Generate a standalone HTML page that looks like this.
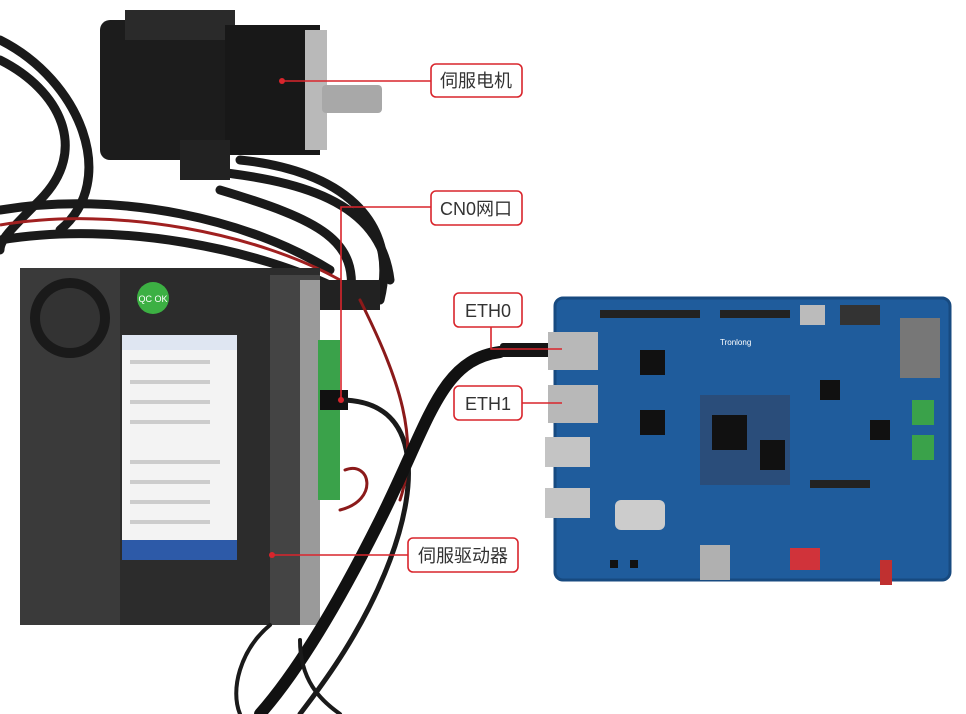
<!DOCTYPE html>
<html><head><meta charset="utf-8"><style>
html,body{margin:0;padding:0;background:#fff;}
svg{display:block;}
text{font-family:"Liberation Sans","Noto Sans CJK SC",sans-serif;fill:#333;}
</style></head><body>
<svg width="966" height="714" viewBox="0 0 966 714" xmlns="http://www.w3.org/2000/svg">
<rect width="966" height="714" fill="#fff"/>
<!-- cables behind -->
<g fill="none" stroke="#1a1a1a" stroke-width="9" stroke-linecap="round">
<path d="M0,60 C60,90 90,150 40,200 C10,230 0,240 0,250"/>
<path d="M0,40 C80,80 120,180 60,230"/>
<path d="M0,210 C120,190 250,220 330,270"/>
<path d="M0,240 C120,220 260,250 340,290"/>
<path d="M200,170 C300,180 380,200 390,280"/>
<path d="M220,190 C320,220 360,240 350,300"/>
<path d="M240,160 C340,170 400,220 380,300"/>
</g>
<path d="M0,225 C120,205 260,235 340,280" fill="none" stroke="#a02020" stroke-width="3"/>
<!-- motor -->
<rect x="100" y="20" width="130" height="140" rx="10" fill="#1c1c1c"/>
<rect x="125" y="10" width="110" height="30" fill="#2a2a2a"/>
<rect x="225" y="25" width="95" height="130" fill="#181818"/>
<rect x="305" y="30" width="22" height="120" fill="#b9b9b9"/>
<rect x="322" y="85" width="60" height="28" rx="4" fill="#a8a8a8"/>
<rect x="180" y="140" width="50" height="40" fill="#222"/>
<!-- drive -->
<rect x="20" y="268" width="300" height="357" fill="#2c2c2c"/>
<rect x="20" y="268" width="100" height="357" fill="#3a3a3a"/>
<rect x="270" y="275" width="50" height="350" fill="#444"/>
<rect x="300" y="280" width="20" height="345" fill="#9a9a9a"/>
<circle cx="70" cy="318" r="40" fill="#1a1a1a"/>
<circle cx="70" cy="318" r="30" fill="#333"/>
<circle cx="153" cy="298" r="16" fill="#3cb043"/>
<text x="153" y="302" font-size="9" text-anchor="middle" fill="#fff" style="fill:#fff">QC OK</text>
<rect x="122" y="335" width="115" height="225" fill="#f3f3f3"/>
<rect x="122" y="335" width="115" height="15" fill="#dfe6f2"/>
<rect x="122" y="540" width="115" height="20" fill="#2d5aa8"/>
<g fill="#ccc"><rect x="130" y="360" width="80" height="4"/><rect x="130" y="380" width="80" height="4"/><rect x="130" y="400" width="80" height="4"/><rect x="130" y="420" width="80" height="4"/><rect x="130" y="460" width="90" height="4"/><rect x="130" y="480" width="80" height="4"/><rect x="130" y="500" width="80" height="4"/><rect x="130" y="520" width="80" height="4"/></g>
<rect x="318" y="340" width="22" height="160" fill="#3aa24a"/>
<rect x="320" y="390" width="28" height="20" fill="#111"/>
<rect x="320" y="280" width="60" height="30" fill="#222"/>
<!-- cables front -->
<g fill="none" stroke-linecap="round">
<path d="M340,400 C420,400 420,480 390,560 C360,640 310,700 300,714" stroke="#1a1a1a" stroke-width="5"/>
<path d="M360,300 C400,380 420,440 400,500" stroke="#8b1a1a" stroke-width="3"/>
<path d="M345,470 C370,460 380,500 340,510" stroke="#8b1a1a" stroke-width="3"/>
<path d="M500,352 C440,360 430,420 380,520 C330,620 290,680 260,714" stroke="#111" stroke-width="12"/>
<path d="M300,640 C300,680 320,700 340,714" stroke="#1a1a1a" stroke-width="4"/>
<path d="M270,625 C240,650 230,690 240,714" stroke="#1a1a1a" stroke-width="4"/>
</g>
<rect x="500" y="343" width="60" height="14" rx="3" fill="#151515"/>
<!-- board -->
<rect x="555" y="298" width="395" height="282" rx="8" fill="#1f5c9c"/>
<rect x="555" y="298" width="395" height="282" rx="8" fill="none" stroke="#174a80" stroke-width="3"/>
<rect x="548" y="332" width="50" height="38" fill="#b8b8b8"/>
<rect x="548" y="385" width="50" height="38" fill="#b8b8b8"/>
<rect x="545" y="437" width="45" height="30" fill="#c4c4c4"/>
<rect x="545" y="488" width="45" height="30" fill="#c4c4c4"/>
<rect x="700" y="395" width="90" height="90" fill="#2a4d7a"/>
<rect x="712" y="415" width="35" height="35" fill="#111"/>
<rect x="760" y="440" width="25" height="30" fill="#111"/>
<rect x="900" y="318" width="40" height="60" fill="#777"/>
<rect x="912" y="400" width="22" height="25" fill="#3aa24a"/>
<rect x="912" y="435" width="22" height="25" fill="#3aa24a"/>
<rect x="790" y="548" width="30" height="22" fill="#d0333a"/>
<rect x="700" y="545" width="30" height="35" fill="#b0b0b0"/>
<rect x="615" y="500" width="50" height="30" rx="6" fill="#ccc"/>
<rect x="600" y="310" width="100" height="8" fill="#222"/>
<rect x="720" y="310" width="70" height="8" fill="#222"/>
<rect x="840" y="305" width="40" height="20" fill="#333"/>
<rect x="800" y="305" width="25" height="20" fill="#bbb"/>
<rect x="810" y="480" width="60" height="8" fill="#222"/>
<g fill="#111"><rect x="640" y="350" width="25" height="25"/><rect x="640" y="410" width="25" height="25"/><rect x="820" y="380" width="20" height="20"/><rect x="870" y="420" width="20" height="20"/><rect x="610" y="560" width="8" height="8"/><rect x="630" y="560" width="8" height="8"/></g>
<text x="720" y="345" font-size="8" style="fill:#fff">Tronlong</text>
<rect x="880" y="560" width="12" height="25" fill="#c03030"/>
<!-- callouts -->
<g fill="none" stroke="#d9252c" stroke-width="1.6">
<path d="M282,81 H431"/>
<path d="M341,400 V207 H431"/>
<path d="M491,327 V349 H562"/>
<path d="M522,403 H562"/>
<path d="M272,555 H408"/>
</g>
<g fill="#d9252c"><circle cx="282" cy="81" r="3"/><circle cx="341" cy="400" r="3"/><circle cx="272" cy="555" r="3"/></g>
<g fill="#fff" stroke="#d9252c" stroke-width="1.6">
<rect x="431" y="64" width="91" height="33" rx="5"/>
<rect x="431" y="191" width="91" height="34" rx="5"/>
<rect x="454" y="293" width="68" height="34" rx="5"/>
<rect x="454" y="386" width="68" height="34" rx="5"/>
<rect x="408" y="538" width="110" height="34" rx="5"/>
</g>
<g font-size="18" text-anchor="middle">
<text x="476" y="87">伺服电机</text>
<text x="476" y="215">CN0网口</text>
<text x="488" y="317">ETH0</text>
<text x="488" y="410">ETH1</text>
<text x="463" y="562">伺服驱动器</text>
</g>
</svg>
</body></html>
